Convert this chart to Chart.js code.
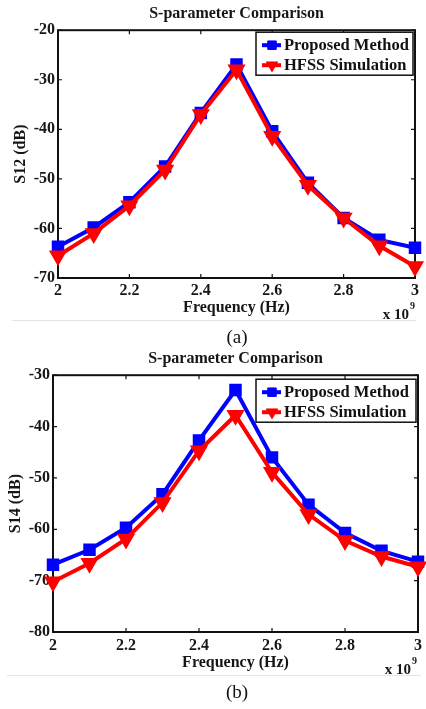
<!DOCTYPE html>
<html>
<head>
<meta charset="utf-8">
<script src="https://cdn.jsdelivr.net/npm/chart.js@4.4.0/dist/chart.umd.min.js"></script>
<style>
    body { margin: 0; width: 426px; height: 709px; background: #fff; position: relative; overflow: hidden; font-family: "Liberation Serif", "Times New Roman", serif; }
    .panel { position: absolute; left: 0; }
    .sep { position: absolute; height: 1px; background: #e4e4e4; }
    .cap { position: absolute; left: 137px; width: 200px; text-align: center; font-size: 19px; line-height: 22px; color: #111; }
</style>
</head>
<body>
<canvas id="chart_a" class="panel" style="top:0px" width="426" height="322"></canvas>
<div class="sep" style="top:320px; left:12px; width:404px;"></div>
<div class="cap" style="top:326px;">(a)</div>
<canvas id="chart_b" class="panel" style="top:345px" width="426" height="331"></canvas>
<div class="sep" style="top:675px; left:7px; width:414px;"></div>
<div class="cap" style="top:681px;">(b)</div>
<script>
    "use strict";
    // frequency in units of 1e9 Hz (axis shows "x 10^9")
    var freq = [2, 2.1, 2.2, 2.3, 2.4, 2.5, 2.6, 2.7, 2.8, 2.9, 3];
    var s12Proposed = [-63.7, -59.8, -54.7, -47.5, -36.7, -26.9, -40.4, -50.8, -57.9, -62.3, -63.9];
    var s12Hfss = [-65.5, -61.0, -55.4, -48.2, -37.0, -28.0, -41.4, -51.3, -57.9, -63.5, -67.7];
    var s14Proposed = [-66.9, -64.0, -59.7, -53.2, -42.7, -32.9, -46.0, -55.2, -60.7, -64.2, -66.3];
    var s14Hfss = [-70.2, -66.6, -61.9, -54.8, -44.7, -37.8, -48.9, -57.1, -62.2, -65.3, -67.3];
    var seriesLabels = ["Proposed Method", "HFSS Simulation"];
    var chartTitle = "S-parameter Comparison";
    var xTitle = "Frequency (Hz)";

    var SERIF = '"Liberation Serif", "Times New Roman", serif';
    Chart.defaults.font.family = SERIF;
    Chart.defaults.font.weight = "bold";
    Chart.defaults.color = "#161616";

    function toPoints(values) {
        return values.map(function (v, i) {
            return {x: freq[i], y: v};
        });
    }

    // axes box with inward ticks, like matlab
    var boxAxes = {
        id: "boxAxes",
        beforeDatasetsDraw: function (chart) {
            var ctx = chart.ctx;
            var a = chart.chartArea;
            var sx = chart.scales.x;
            var sy = chart.scales.y;
            ctx.save();
            ctx.strokeStyle = "#111";
            ctx.lineWidth = 1.2;
            ctx.beginPath();
            sx.ticks.forEach(function (t) {
                var px = sx.getPixelForValue(t.value);
                ctx.moveTo(px, a.bottom);
                ctx.lineTo(px, a.bottom - 4);
                ctx.moveTo(px, a.top);
                ctx.lineTo(px, a.top + 4);
            });
            sy.ticks.forEach(function (t) {
                var py = sy.getPixelForValue(t.value);
                ctx.moveTo(a.left, py);
                ctx.lineTo(a.left + 4, py);
                ctx.moveTo(a.right, py);
                ctx.lineTo(a.right - 4, py);
            });
            ctx.stroke();
            ctx.lineWidth = 2;
            ctx.strokeRect(a.left, a.top, a.right - a.left, a.bottom - a.top);
            ctx.restore();
        },
    };

    var boxLegend = {
        id: "boxLegend",
        afterDraw: function (chart, args, opts) {
            var ctx = chart.ctx;
            var a = chart.chartArea;
            var x0 = a.right - opts.right - opts.width;
            var y0 = a.top + opts.top;
            ctx.save();
            ctx.fillStyle = "#fff";
            ctx.fillRect(x0, y0, opts.width, opts.height);
            ctx.strokeStyle = "#111";
            ctx.lineWidth = 1.5;
            ctx.strokeRect(x0, y0, opts.width, opts.height);
            chart.data.datasets.forEach(function (ds, i) {
                var y = y0 + opts.rows[i];
                ctx.strokeStyle = ds.borderColor;
                ctx.lineWidth = ds.borderWidth;
                ctx.beginPath();
                ctx.moveTo(x0 + 6, y);
                ctx.lineTo(x0 + 25, y);
                ctx.stroke();
                ctx.fillStyle = ds.pointBackgroundColor;
                ctx.lineWidth = 1;
                Chart.helpers.drawPoint(ctx, {
                    pointStyle: ds.pointStyle,
                    rotation: ds.pointRotation || 0,
                    radius: ds.pointRadius,
                    borderWidth: 1,
                }, x0 + 16, y);
                ctx.fillStyle = "#111";
                ctx.font = "bold 16.5px " + SERIF;
                ctx.textBaseline = "middle";
                ctx.textAlign = "left";
                ctx.fillText(ds.label, x0 + 28, y + 1);
            });
            ctx.restore();
        },
    };

    // "x 10^9" exponent under the right end of the x axis
    var axisExponent = {
        id: "axisExponent",
        afterDraw: function (chart, args, opts) {
            var ctx = chart.ctx;
            var a = chart.chartArea;
            var x = a.right - opts.dx;
            var y = a.bottom + opts.dy;
            ctx.save();
            ctx.fillStyle = "#161616";
            ctx.textBaseline = "middle";
            ctx.textAlign = "right";
            ctx.font = "bold 15px " + SERIF;
            ctx.fillText("x 10", x, y);
            ctx.textAlign = "left";
            ctx.font = "bold 10px " + SERIF;
            ctx.fillText("9", x + 1, y - 9);
            ctx.restore();
        },
    };

    function makeChart(id, cfg) {
        return new Chart(document.getElementById(id), {
            type: "line",
            data: {
                datasets: [
                    {
                        label: seriesLabels[0],
                        data: toPoints(cfg.proposed),
                        borderColor: "#0000ff",
                        backgroundColor: "#0000ff",
                        pointBackgroundColor: "#0000ff",
                        pointBorderColor: "#0000ff",
                        pointStyle: "rect",
                        pointRadius: 6,
                        borderWidth: 4,
                        clip: false,
                        order: 2,
                    },
                    {
                        label: seriesLabels[1],
                        data: toPoints(cfg.hfss),
                        borderColor: "#ff0000",
                        backgroundColor: "#ff0000",
                        pointBackgroundColor: "#ff0000",
                        pointBorderColor: "#ff0000",
                        pointStyle: "triangle",
                        pointRotation: 180,
                        pointRadius: 6.5,
                        borderWidth: 4,
                        clip: false,
                        order: 1,
                    },
                ],
            },
            options: {
                responsive: false,
                animation: false,
                layout: {
                    autoPadding: false,
                    padding: {left: cfg.padLeft, right: cfg.padRight, top: 0, bottom: 0},
                },
                plugins: {
                    legend: {display: false},
                    tooltip: {enabled: false},
                    title: {
                        display: true,
                        text: chartTitle,
                        fullSize: false,
                        font: {size: 16, weight: "bold"},
                        padding: {top: 4, bottom: cfg.titleGap},
                        color: "#161616",
                    },
                    boxLegend: cfg.legend,
                    axisExponent: cfg.exponent,
                },
                scales: {
                    x: {
                        type: "linear",
                        min: 2,
                        max: 3,
                        grid: {display: false, drawTicks: false},
                        border: {display: false},
                        ticks: {
                            stepSize: 0.2,
                            padding: cfg.xTickPad,
                            font: {size: 16},
                            callback: function (v) {
                                return String(Math.round(v * 10) / 10);
                            },
                        },
                        title: {
                            display: true,
                            text: xTitle,
                            font: {size: 16, weight: "bold"},
                            padding: {top: 0, bottom: cfg.xTitlePad},
                        },
                        afterFit: function (scale) {
                            scale.height = 44;
                        },
                    },
                    y: {
                        min: cfg.yMin,
                        max: cfg.yMax,
                        grid: {display: false, drawTicks: false},
                        border: {display: false},
                        ticks: {stepSize: 10, padding: 3, font: {size: 16}},
                        title: {
                            display: true,
                            text: cfg.yTitle,
                            font: {size: 16, weight: "bold"},
                            padding: {top: 0, bottom: 0},
                        },
                        afterFit: function (scale) {
                            scale.width = cfg.yWidth;
                        },
                    },
                },
            },
            plugins: [boxAxes, boxLegend, axisExponent],
        });
    }

    makeChart("chart_a", {
        proposed: s12Proposed,
        hfss: s12Hfss,
        yMin: -70,
        yMax: -20,
        yTitle: "S12 (dB)",
        padLeft: 11,
        padRight: 11,
        yWidth: 47,
        titleGap: 7,
        xTickPad: 3,
        xTitlePad: 5,
        legend: {width: 157, height: 43, top: 2, right: 2, rows: [13, 33]},
        exponent: {dx: 6, dy: 37},
    });

    makeChart("chart_b", {
        proposed: s14Proposed,
        hfss: s14Hfss,
        yMin: -80,
        yMax: -30,
        yTitle: "S14 (dB)",
        padLeft: 6,
        padRight: 6,
        yWidth: 47,
        titleGap: 7,
        xTickPad: 4,
        xTitlePad: 4,
        legend: {width: 160, height: 43, top: 4, right: 2, rows: [13, 33]},
        exponent: {dx: 7, dy: 38},
    });
</script>
</body>
</html>
